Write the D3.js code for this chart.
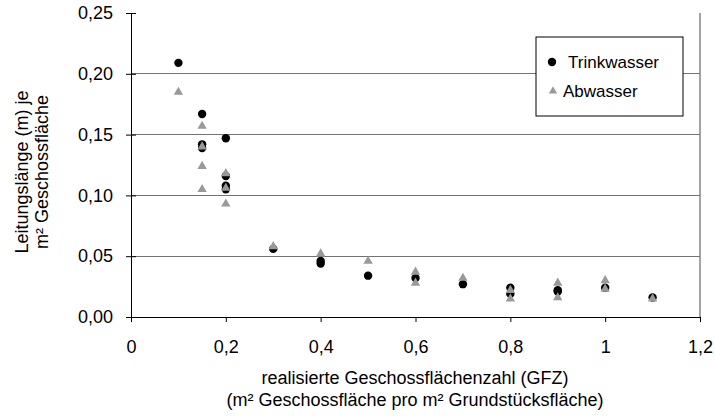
<!DOCTYPE html>
<html><head><meta charset="utf-8">
<script src="https://cdn.jsdelivr.net/npm/d3@7"></script>
<style>body{margin:0;background:#fff}svg{display:block}text{font-family:"Liberation Sans",Arial,sans-serif}</style>
</head><body>
<svg id="c" width="715" height="417"></svg>
<script>
const trinkX = [0.1,0.15,0.15,0.15,0.2,0.2,0.2,0.2,0.3,0.4,0.4,0.5,0.6,0.7,0.8,0.8,0.9,0.9,1.0,1.1];
const trinkY = [0.209,0.167,0.142,0.139,0.147,0.116,0.108,0.105,0.056,0.046,0.044,0.034,0.032,0.027,0.024,0.019,0.022,0.021,0.024,0.016];
const abwX = [0.1,0.15,0.15,0.15,0.15,0.2,0.2,0.2,0.3,0.4,0.5,0.6,0.6,0.7,0.8,0.8,0.9,0.9,1.0,1.0,1.1];
const abwY = [0.185,0.157,0.140,0.124,0.105,0.118,0.106,0.093,0.058,0.052,0.046,0.037,0.028,0.032,0.022,0.015,0.028,0.016,0.030,0.023,0.015];
const xTicks = [0,0.2,0.4,0.6,0.8,1,1.2];
const yTicks = [0,0.05,0.10,0.15,0.20,0.25];
const seriesNames = ["Trinkwasser","Abwasser"];
const xTitle = ["realisierte Geschossflächenzahl (GFZ)","(m² Geschossfläche pro m² Grundstücksfläche)"];
const yTitle = ["Leitungslänge (m) je","m² Geschossfläche"];

const FS = 18;
const svg = d3.select("#c");
const L=131, R=700, T=13, B=317;
const x = d3.scaleLinear().domain([0,1.2]).range([L,R]);
const y = d3.scaleLinear().domain([0,0.25]).range([B,T]);
const fmtY = d => d3.format(".2f")(d).replace(".",",");
const fmtX = d => String(d).replace(".",",");

// gridlines
svg.append("g").selectAll("line").data(yTicks.filter(d=>d>0 && d<0.25)).join("line")
  .attr("x1",L).attr("x2",R).attr("y1",d=>y(d)).attr("y2",d=>y(d))
  .attr("stroke","#737373").attr("stroke-width",1.3).attr("shape-rendering","crispEdges");
// right border
svg.append("line").attr("x1",R).attr("x2",R).attr("y1",T).attr("y2",B).attr("stroke","#737373").attr("stroke-width",1.3);

// y axis
const ya = svg.append("g").attr("transform",`translate(${L},0)`)
  .call(d3.axisLeft(y).tickValues(yTicks).tickFormat(fmtY).tickSizeInner(5).tickSizeOuter(0).tickPadding(13));
ya.selectAll(".tick line").attr("x2",5).attr("x1",-5);
ya.selectAll("text").attr("font-size",FS).attr("fill","#000").style("font-family","Liberation Sans, Arial");
ya.select(".domain").attr("stroke","#000");
// x axis
const xa = svg.append("g").attr("transform",`translate(0,${B})`)
  .call(d3.axisBottom(x).tickValues(xTicks).tickFormat(fmtX).tickSizeInner(5).tickSizeOuter(0).tickPadding(18));
xa.selectAll("text").attr("font-size",FS).attr("fill","#000").style("font-family","Liberation Sans, Arial");
xa.select(".domain").attr("stroke","#000");

// points
svg.append("g").selectAll("circle").data(trinkX.map((v,i)=>[v,trinkY[i]])).join("circle")
  .attr("cx",d=>x(d[0])).attr("cy",d=>y(d[1])).attr("r",4.2).attr("fill","#000");
const tri = d3.symbol().type(d3.symbolTriangle).size(38);
svg.append("g").selectAll("path").data(abwX.map((v,i)=>[v,abwY[i]])).join("path")
  .attr("d",tri).attr("transform",d=>`translate(${x(d[0])},${y(d[1])})`).attr("fill","#999999");

// legend
const lg = svg.append("g");
lg.append("rect").attr("x",536).attr("y",37).attr("width",147).attr("height",79).attr("fill","#fff").attr("stroke","#000").attr("stroke-width",1);
lg.append("circle").attr("cx",552).attr("cy",62).attr("r",4.2).attr("fill","#000");
lg.append("text").attr("x",568).attr("y",68).attr("font-size",17).text(seriesNames[0]);
lg.append("path").attr("d",d3.symbol().type(d3.symbolTriangle).size(30)).attr("transform","translate(553,91)").attr("fill","#999999");
lg.append("text").attr("x",563).attr("y",97).attr("font-size",17).text(seriesNames[1]);

// titles
svg.append("g").selectAll("text").data(xTitle).join("text")
  .attr("x",415).attr("y",(d,i)=>384+i*22).attr("text-anchor","middle").attr("font-size",FS).text(d=>d);
svg.append("g").selectAll("text").data(yTitle).join("text")
  .attr("transform",(d,i)=>`translate(${28+i*20},172) rotate(-90)`).attr("text-anchor","middle").attr("font-size",FS).text(d=>d);
</script>
</body></html>
